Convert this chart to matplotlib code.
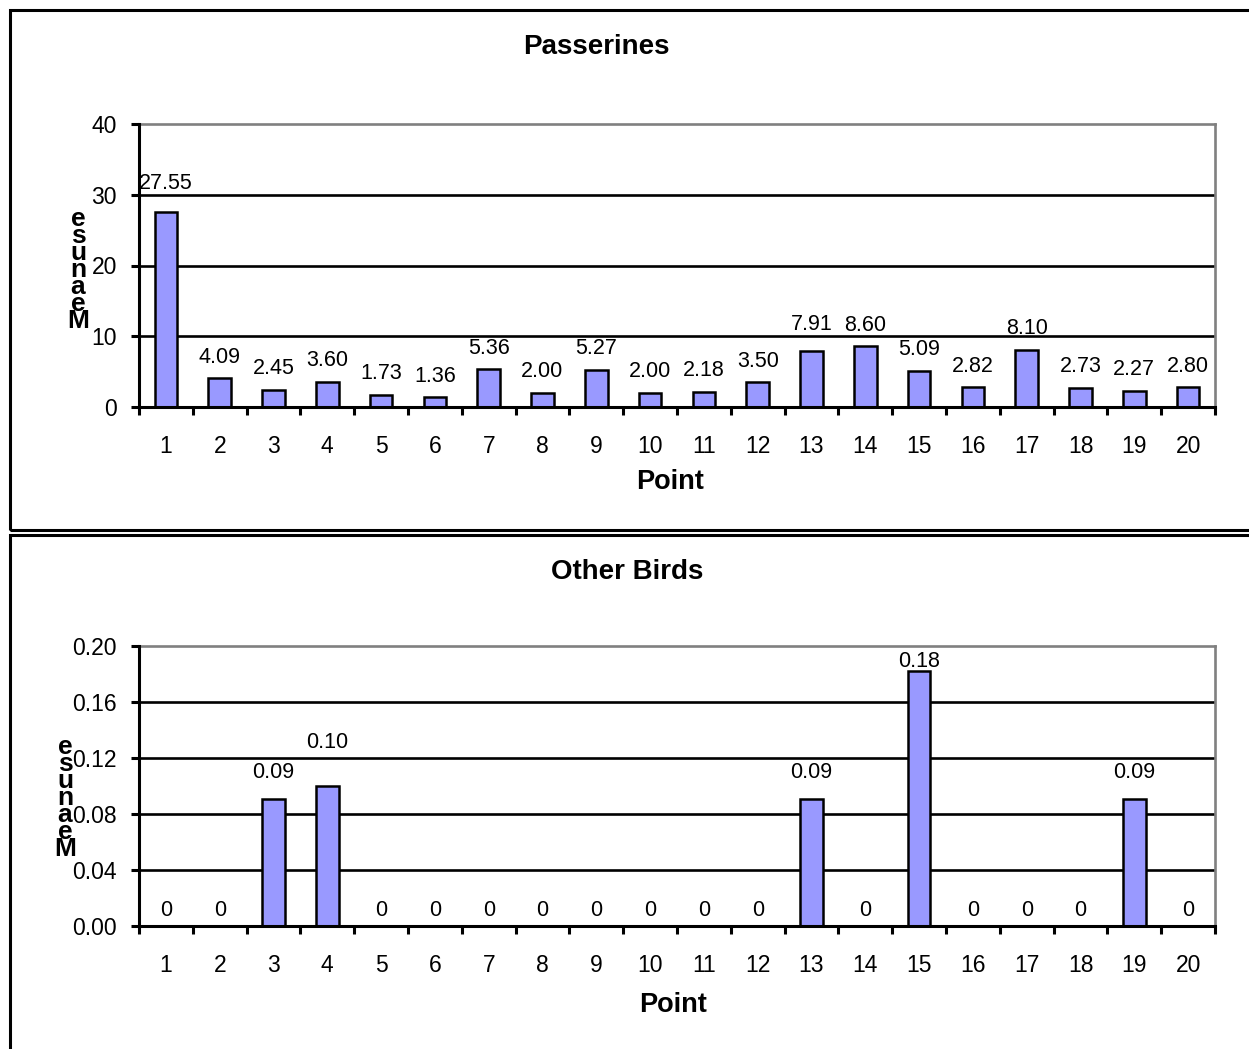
import numpy as np
import matplotlib.pyplot as plt
from matplotlib.patches import Rectangle

plt.rcParams['font.family'] = ['Liberation Sans', 'DejaVu Sans']

points = list(range(1, 21))
passerines = [27.55, 4.09, 2.45, 3.60, 1.73, 1.36, 5.36, 2.00, 5.27, 2.00,
              2.18, 3.50, 7.91, 8.60, 5.09, 2.82, 8.10, 2.73, 2.27, 2.80]
other_birds = [0, 0, 0.091, 0.10, 0, 0, 0, 0, 0, 0,
               0, 0, 0.091, 0, 0.182, 0, 0, 0, 0.091, 0]
ylabel_letters = ['e', 's', 'u', 'n', 'a', 'e', 'M']

# extra lift (pixels) of a few data labels, as placed in the original
lift_top = {0: 8, 12: 6}
lift_bottom = {2: 5, 3: 22, 12: 5, 14: -11, 18: 5}

W, H = 1249, 1049
fig = plt.figure(figsize=(W / 100, H / 100), dpi=100)


def fx(x):
    return x / W


def fy(y):
    return 1 - y / H


def make_axes(top, bottom):
    return fig.add_axes([fx(139), fy(bottom), fx(1215) - fx(139), fy(top) - fy(bottom)])


def draw_chart(ax, vals, ymax, step, fmt, title, title_xy, xlab_xy, letters_xy, lift, zero_lift):
    x = np.arange(len(vals))
    ax.bar(x, vals, width=0.42, color='#9999FF', edgecolor='black', linewidth=1.8, zorder=3)
    ax.set_xlim(-0.5, len(vals) - 0.5)
    ax.set_ylim(0, ymax)
    yt = np.arange(0, ymax + step / 2, step)
    ax.set_yticks(yt)
    ax.set_yticklabels([fmt.format(v) for v in yt], fontsize=16.5)
    for v in yt[1:-1]:
        ax.axhline(v, color='black', lw=1.9, zorder=1)
    # ticks between categories, labels at centers
    ax.set_xticks(np.arange(-0.5, len(vals)), labels=[''] * (len(vals) + 1))
    ax.set_xticks(x, labels=[str(p) for p in points], minor=True, fontsize=16.5)
    ax.tick_params(axis='x', which='major', direction='out', length=6, width=2.2)
    ax.tick_params(axis='x', which='minor', length=0, pad=20)
    ax.tick_params(axis='y', direction='out', length=6, width=2.2, pad=10)
    for s in ['left', 'bottom']:
        ax.spines[s].set_linewidth(2.2)
        ax.spines[s].set_color('black')
        ax.spines[s].set_zorder(4)
    for s in ['top', 'right']:
        ax.spines[s].set_linewidth(1.9)
        ax.spines[s].set_color('#808080')
    for i, v in enumerate(vals):
        lab = '0' if v == 0 else '{:.2f}'.format(v)
        dy = 21 + lift.get(i, 0) + (zero_lift if v == 0 else 0)
        ax.annotate(lab, (i, v), xytext=(0, dy * 0.72), textcoords='offset points',
                    ha='center', va='center', fontsize=15.5, zorder=5)
    fig.text(fx(title_xy[0]), fy(title_xy[1]), title, ha='center', va='center',
             fontsize=20, fontweight='bold')
    fig.text(fx(xlab_xy[0]), fy(xlab_xy[1]), 'Point', ha='center', va='center',
             fontsize=19.5, fontweight='bold')
    lx, ly = letters_xy
    for k, ch in enumerate(ylabel_letters):
        fig.text(fx(lx), fy(ly + 17 * k), ch, ha='center', va='center',
                 fontsize=19, fontweight='bold')


ax1 = make_axes(124, 407)
draw_chart(ax1, passerines, 40, 10, '{:.0f}', 'Passerines', (596, 47), (670, 482), (78, 219),
           lift_top, 0)

ax2 = make_axes(646, 926)
draw_chart(ax2, other_birds, 0.20, 0.04, '{:.2f}', 'Other Birds', (627, 572), (673, 1005), (65, 747),
           lift_bottom, -5)

# chart area borders
fig.add_artist(Rectangle((fx(9.5), fy(530)), 1.2, fy(9.5) - fy(530), transform=fig.transFigure,
                         fill=False, edgecolor='black', lw=2.2))
fig.add_artist(Rectangle((fx(9.5), fy(1100)), 1.2, fy(535) - fy(1100), transform=fig.transFigure,
                         fill=False, edgecolor='black', lw=2.2))

fig.savefig('out.png', dpi=100)
